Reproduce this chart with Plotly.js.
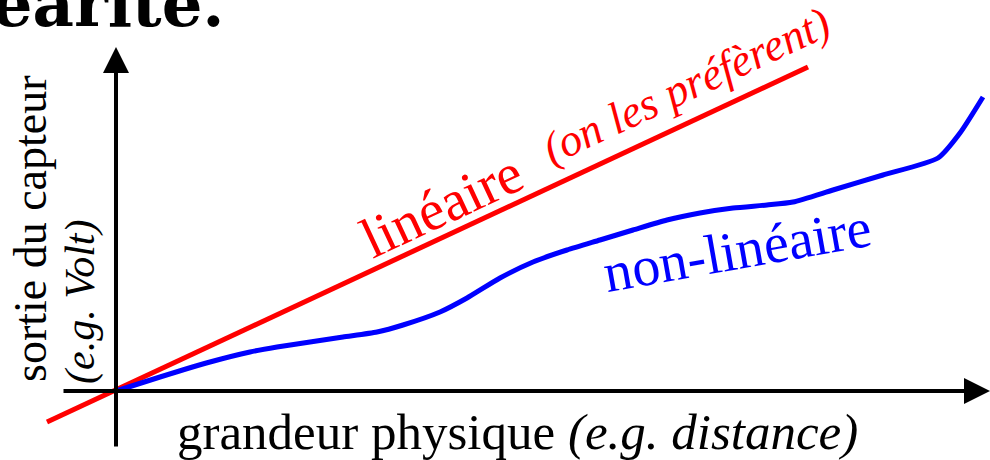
<!DOCTYPE html>
<html><head><meta charset="utf-8">
<script src="https://cdn.plot.ly/plotly-3.0.1.min.js"></script>
<style>html,body{margin:0;padding:0;background:#fff;}</style>
</head><body><div id="chart" style="width:990px;height:460px;"></div>
<script>
// Linear sensor response (red) — two end points of the straight line
const linX = [-0.69, 6.92];
const linY = [-0.31, 3.24];
// Non-linear sensor response (blue)
const nonLinX = [0, 0.44, 0.94, 1.34, 1.61, 1.94, 2.27, 2.61, 2.87, 3.24, 3.51, 3.84, 4.17, 4.51, 4.84, 5.17, 5.51, 5.84, 6.17, 6.51, 6.77, 7.17, 7.67, 8.22, 8.44, 8.67];
const nonLinY = [0, 0.14, 0.29, 0.39, 0.44, 0.49, 0.54, 0.59, 0.66, 0.79, 0.93, 1.13, 1.29, 1.41, 1.51, 1.61, 1.71, 1.78, 1.83, 1.86, 1.89, 2.01, 2.16, 2.33, 2.58, 2.94];
// Texts
const titleText = "Linéarité.";
const xTitle = "grandeur physique <i>(e.g. distance)</i>";
const yTitle1 = "sortie du capteur";
const yTitle2 = "<i>(e.g. Volt)</i>";
const linLabel = "linéaire";
const linNote = "<i>(on les préfèrent)</i>";
const nonLinLabel = "non-linéaire";

const serif = "Liberation Serif";
const traces = [
  {x: linX, y: linY, mode: "lines", line: {color: "#ff0000", width: 5}, hoverinfo: "skip", showlegend: false},
  {x: nonLinX, y: nonLinY, mode: "lines", line: {color: "#0000ff", width: 5, shape: "spline", smoothing: 0.6}, hoverinfo: "skip", showlegend: false}
];
const layout = {
  width: 990, height: 460, autosize: false,
  margin: {l: 0, r: 0, t: 0, b: 0, pad: 0},
  paper_bgcolor: "#fff", plot_bgcolor: "#fff",
  showlegend: false,
  xaxis: {range: [-1.16, 8.74], visible: false, fixedrange: true},
  yaxis: {range: [-0.69, 3.91], visible: false, fixedrange: true},
  annotations: [
    // axes with arrowheads
    {x: 0, y: 3.44, ax: 0, ay: -0.57, xref: "x", yref: "y", axref: "x", ayref: "y", text: "", showarrow: true, arrowhead: 2, arrowsize: 1.3, arrowwidth: 4, arrowcolor: "#000", standoff: 0},
    {x: 8.74, y: 0, ax: -0.54, ay: 0, xref: "x", yref: "y", axref: "x", ayref: "y", text: "", showarrow: true, arrowhead: 2, arrowsize: 1.3, arrowwidth: 4, arrowcolor: "#000", standoff: 0},
    // title (cut off by the top edge)
    {x: 0.229, y: 0.992, xref: "paper", yref: "paper", text: "<b>" + titleText + "</b>", showarrow: false, xanchor: "right", yanchor: "middle",
     font: {family: "DejaVu Serif", size: 64, color: "#000"}},
    // axis titles
    {x: 4.01, y: -0.41, xref: "x", yref: "y", text: xTitle, showarrow: false, font: {family: serif, size: 51, color: "#000"}},
    {x: -0.86, y: 1.62, xref: "x", yref: "y", text: yTitle1, showarrow: false, textangle: -90, font: {family: serif, size: 46, color: "#000"}},
    {x: -0.36, y: 0.89, xref: "x", yref: "y", text: yTitle2, showarrow: false, textangle: -90, font: {family: serif, size: 42, color: "#000"}},
    // curve labels
    {x: 3.25, y: 1.86, xref: "x", yref: "y", text: linLabel, showarrow: false, textangle: -25, font: {family: serif, size: 57, color: "#ff0000"}},
    {x: 5.70, y: 3.05, xref: "x", yref: "y", text: linNote, showarrow: false, textangle: -25, font: {family: serif, size: 45, color: "#ff0000"}},
    {x: 6.21, y: 1.41, xref: "x", yref: "y", text: nonLinLabel, showarrow: false, textangle: -10, font: {family: serif, size: 56, color: "#0000ff"}}
  ]
};
Plotly.newPlot("chart", traces, layout, {staticPlot: true, displayModeBar: false});
</script></body></html>
